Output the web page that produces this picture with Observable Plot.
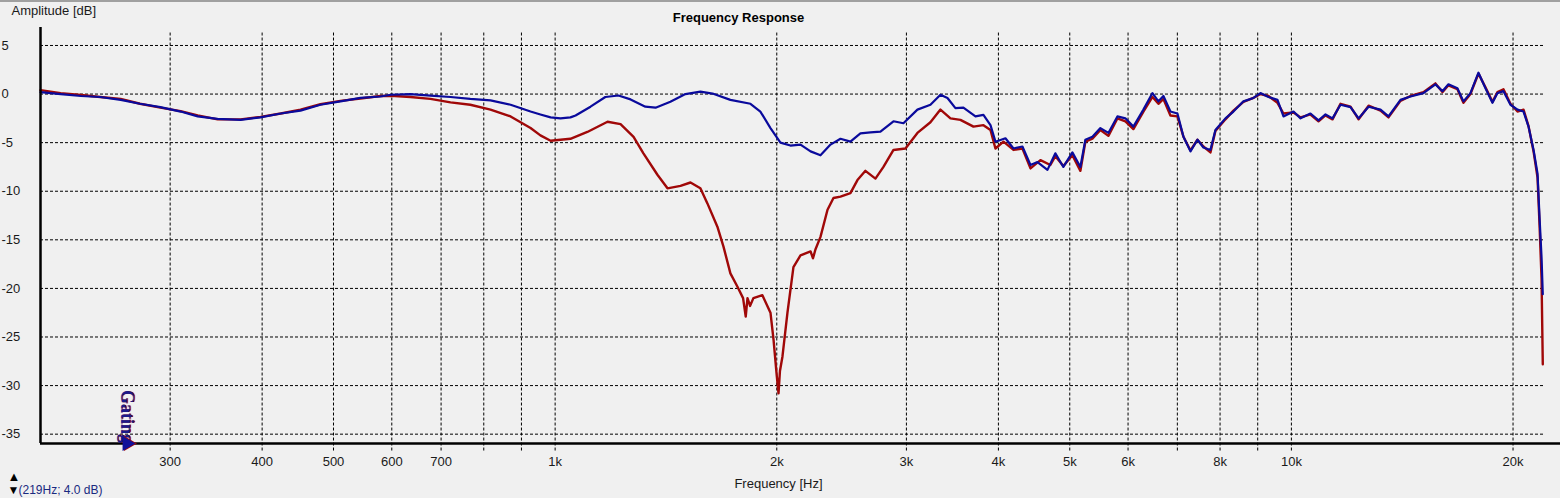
<!DOCTYPE html>
<html>
<head>
<meta charset="utf-8">
<script src="https://cdn.jsdelivr.net/npm/d3@7"></script>
<script src="https://cdn.jsdelivr.net/npm/@observablehq/plot@0.6"></script>
<style>
  html, body { margin: 0; padding: 0; background: #f0f0f0; }
  #wrap { position: relative; width: 1560px; height: 498px; overflow: hidden; }
  #topline { position: absolute; left: 0; top: 0; width: 1560px; height: 2px; background: #a0a0a0; }
  svg { display: block; }
</style>
</head>
<body>
<div id="wrap"><div id="chart"></div><div id="topline"></div></div>
<script>
// ---- data (frequency Hz, amplitude dB) ----
const blueCurve = [[200,0.2],[213,0.0],[227,-0.2],[241,-0.3],[257,-0.6],[273,-1.0],[291,-1.35],[310,-1.8],[327,-2.3],[348,-2.55],[374,-2.65],[398,-2.4],[424,-2.0],[451,-1.7],[480,-1.1],[511,-0.75],[544,-0.4],[579,-0.25],[598,-0.07],[636,0.0],[677,-0.17],[721,-0.3],[767,-0.5],[817,-0.65],[870,-1.1],[926,-1.8],[955,-2.1],[986,-2.4],[1017,-2.5],[1049,-2.4],[1066,-2.2],[1117,-1.3],[1170,-0.3],[1219,-0.15],[1266,-0.55],[1326,-1.3],[1369,-1.4],[1434,-0.8],[1503,0.0],[1575,0.25],[1636,0.05],[1730,-0.6],[1842,-1.0],[1900,-1.8],[1961,-3.5],[2023,-5.0],[2087,-5.3],[2154,-5.2],[2223,-5.9],[2293,-6.3],[2366,-5.2],[2441,-4.6],[2518,-4.9],[2598,-4.05],[2681,-3.95],[2766,-3.86],[2881,-2.8],[2972,-3.0],[3105,-1.6],[3234,-1.1],[3337,-0.07],[3411,-0.4],[3497,-1.45],[3585,-1.4],[3723,-2.3],[3817,-2.15],[3902,-3.2],[3963,-4.9],[4089,-4.55],[4193,-5.6],[4312,-5.4],[4422,-7.3],[4520,-7.0],[4663,-7.8],[4780,-6.1],[4901,-7.5],[5041,-6.0],[5169,-7.5],[5250,-4.7],[5367,-4.4],[5503,-3.5],[5642,-4.0],[5803,-2.3],[5950,-2.5],[6101,-3.35],[6295,-1.6],[6476,0.1],[6598,-0.75],[6702,-0.2],[6850,-1.8],[7002,-2.0],[7135,-4.4],[7293,-5.9],[7454,-4.7],[7595,-5.5],[7763,-5.75],[7885,-3.7],[8136,-2.5],[8342,-1.8],[8607,-0.75],[8880,-0.4],[9078,0.1],[9307,-0.3],[9574,-0.6],[9755,-2.3],[10065,-1.8],[10290,-2.5],[10614,-2.0],[10885,-2.7],[11126,-2.1],[11372,-2.5],[11660,-1.1],[12030,-1.35],[12339,-2.5],[12730,-1.3],[13213,-1.6],[13548,-2.3],[14065,-0.6],[14512,-0.25],[15112,0.1],[15690,1.0],[16037,0.3],[16341,1.0],[16806,0.6],[17126,-0.75],[17505,0.1],[17950,2.2],[18348,0.6],[18753,-0.9],[19050,0.1],[19410,0.3],[19840,-1.1],[20280,-1.6],[20666,-1.8],[20993,-3.35],[21325,-5.75],[21593,-8.2],[21729,-12.7],[21865,-16.8],[21950,-20.6]];

const redCurve = [[200,0.4],[213,0.1],[227,-0.1],[241,-0.3],[257,-0.5],[273,-1.0],[291,-1.4],[310,-1.75],[327,-2.2],[348,-2.6],[374,-2.6],[398,-2.35],[424,-2.0],[451,-1.6],[480,-1.05],[511,-0.7],[544,-0.45],[579,-0.2],[598,-0.17],[636,-0.3],[677,-0.5],[721,-0.85],[767,-1.1],[817,-1.6],[870,-2.3],[926,-3.5],[955,-4.25],[986,-4.8],[1017,-4.7],[1049,-4.6],[1106,-3.9],[1178,-2.85],[1227,-3.1],[1278,-4.4],[1318,-6.1],[1377,-8.3],[1421,-9.7],[1480,-9.45],[1527,-9.1],[1575,-9.7],[1610,-11.25],[1661,-13.65],[1693,-15.7],[1730,-18.45],[1768,-19.8],[1800,-21.0],[1815,-22.9],[1825,-21.0],[1840,-21.8],[1859,-21.0],[1912,-20.7],[1961,-22.5],[1980,-25.3],[2000,-29.0],[2011,-30.8],[2020,-28.5],[2036,-27.0],[2068,-22.5],[2107,-17.8],[2154,-16.6],[2223,-16.2],[2240,-16.9],[2257,-16.0],[2293,-14.7],[2344,-11.9],[2388,-10.7],[2441,-10.55],[2518,-10.2],[2574,-8.85],[2639,-7.9],[2723,-8.7],[2792,-7.5],[2881,-5.75],[2991,-5.6],[3105,-4.0],[3234,-2.9],[3337,-1.6],[3443,-2.5],[3552,-2.65],[3700,-3.35],[3817,-3.2],[3902,-3.7],[3963,-5.6],[4064,-4.9],[4193,-5.75],[4312,-5.6],[4422,-7.65],[4562,-6.8],[4706,-7.3],[4780,-6.4],[4901,-7.4],[5041,-6.3],[5169,-7.9],[5250,-4.9],[5367,-4.6],[5503,-3.7],[5642,-4.3],[5803,-2.5],[5950,-2.8],[6101,-3.6],[6295,-1.8],[6476,-0.3],[6598,-1.0],[6702,-0.5],[6850,-2.2],[7002,-2.3],[7135,-4.4],[7293,-5.8],[7454,-4.7],[7595,-5.4],[7763,-6.0],[7885,-3.8],[8136,-2.6],[8342,-1.7],[8607,-0.8],[8880,-0.4],[9078,0.0],[9307,-0.2],[9574,-0.9],[9755,-2.0],[10065,-1.9],[10290,-2.4],[10614,-2.1],[10885,-2.8],[11126,-2.2],[11372,-2.6],[11660,-1.0],[12030,-1.3],[12339,-2.6],[12730,-1.2],[13213,-1.7],[13548,-2.4],[14065,-0.7],[14512,-0.2],[15112,0.2],[15690,1.1],[16037,0.2],[16341,0.9],[16806,0.5],[17126,-0.9],[17505,0.0],[17950,2.1],[18348,0.7],[18753,-0.8],[19050,0.2],[19410,0.5],[19840,-1.0],[20280,-1.8],[20666,-1.6],[20993,-3.3],[21325,-5.9],[21593,-8.6],[21729,-13.5],[21865,-19.0],[21950,-27.8]];

const yTicks = [5, 0, -5, -10, -15, -20, -25, -30, -35];
const yTickLabels = ["5", "0", "-5", "-10", "-15", "-20", "-25", "-30", "-35"];
const xGrid = [300, 400, 500, 600, 700, 800, 900, 1000, 2000, 3000, 4000, 5000, 6000, 7000, 8000, 9000, 10000, 20000];
const xTicks = [300, 400, 500, 600, 700, 1000, 2000, 3000, 4000, 5000, 6000, 8000, 10000, 20000];
const xTickLabels = ["300", "400", "500", "600", "700", "1k", "2k", "3k", "4k", "5k", "6k", "8k", "10k", "20k"];
const gatingFreq = [262];

const title = "Frequency Response";
const yTitle = "Amplitude [dB]";
const xTitle = "Frequency [Hz]";
const cursorText = "(219Hz; 4.0 dB)";

const xDomain = [200, 23200];
const yDomain = [-35.96, 6.85];
const gridEnd = 22000;

const blueColor = "#0a0a9c";
const redColor = "#a00808";
const font = "'Liberation Sans', Arial, sans-serif";

const plot = Plot.plot({
  width: 1560,
  height: 498,
  marginLeft: 40,
  marginRight: 0,
  marginTop: 27,
  marginBottom: 55,
  style: { background: "#f0f0f0", fontFamily: font, fontSize: "13px", overflow: "visible" },
  x: { type: "log", domain: xDomain, axis: null },
  y: { domain: yDomain, axis: null },
  marks: [
    // horizontal dashed grid
    Plot.ruleY(yTicks, { x1: xDomain[0], x2: gridEnd, stroke: "#000", strokeWidth: 1, strokeDasharray: "3,2" }),
    // vertical dashed grid (extends below the axis as tick)
    Plot.ruleX(xGrid, { y1: 6.28, y2: -36.75, stroke: "#000", strokeWidth: 1, strokeDasharray: "3,2" }),
    // curves
    Plot.line(redCurve, { x: d => d[0], y: d => d[1], stroke: redColor, strokeWidth: 2.4 }),
    Plot.line(blueCurve, { x: d => d[0], y: d => d[1], stroke: blueColor, strokeWidth: 2.2 }),
    // axes lines
    Plot.ruleX([xDomain[0]], { y1: yDomain[0], y2: yDomain[1], stroke: "#000", strokeWidth: 2.5 }),
    Plot.ruleY([yDomain[0]], { stroke: "#000", strokeWidth: 2.5 }),
    // y tick labels
    Plot.text(yTicks, { y: d => d, text: (d, i) => yTickLabels[i], frameAnchor: "left", dx: -39, textAnchor: "start", lineAnchor: "middle", fill: "#1a1a1a", fontSize: 13 }),
    // x tick labels
    Plot.text(xTicks, { x: d => d, text: (d, i) => xTickLabels[i], frameAnchor: "bottom", dy: 18, lineAnchor: "middle", fill: "#1a1a1a", fontSize: 13 }),
    // titles
    Plot.text([title], { text: d => d, frameAnchor: "top-left", dx: 698, dy: -10, textAnchor: "middle", lineAnchor: "middle", fontWeight: "bold", fontSize: 13, fill: "#000" }),
    Plot.text([yTitle], { text: d => d, frameAnchor: "top-left", dx: -29, dy: -17, textAnchor: "start", lineAnchor: "middle", fontSize: 13, fill: "#1a1a1a" }),
    Plot.text([xTitle], { text: d => d, frameAnchor: "bottom-left", dx: 738, dy: 40, textAnchor: "middle", lineAnchor: "middle", fontSize: 13, fill: "#1a1a1a" }),
    Plot.text([cursorText], { text: d => d, frameAnchor: "bottom-left", dx: -22, dy: 47, textAnchor: "start", lineAnchor: "middle", fontSize: 12, fill: "#1a2a80" }),
    // scroll buttons
    Plot.text(["\u25B2"], { text: d => d, frameAnchor: "bottom-left", dx: -33, dy: 33, lineAnchor: "middle", fontSize: 13, fill: "#000" }),
    Plot.text(["\u25BC"], { text: d => d, frameAnchor: "bottom-left", dx: -33, dy: 47, lineAnchor: "middle", fontSize: 12, fill: "#000" }),
    // gating marker
    Plot.text(gatingFreq, { x: d => d, text: () => "Gating", frameAnchor: "bottom", dy: -27, dx: 1, rotate: 90, textAnchor: "middle", lineAnchor: "middle", fontFamily: "'Liberation Serif', serif", fontWeight: "bold", fontSize: 18, fill: redColor }),
    Plot.text(gatingFreq, { x: d => d, text: () => "Gating", frameAnchor: "bottom", dy: -27, rotate: 90, textAnchor: "middle", lineAnchor: "middle", fontFamily: "'Liberation Serif', serif", fontWeight: "bold", fontSize: 18, fill: "#1a1a8a" }),
    Plot.dot(gatingFreq, { x: d => d, frameAnchor: "bottom", dx: 1.5, symbol: "triangle", rotate: 90, r: 5.5, fill: redColor, stroke: "none" }),
    Plot.dot(gatingFreq, { x: d => d, frameAnchor: "bottom", symbol: "triangle", rotate: 90, r: 5.5, fill: "#10109a", stroke: "none" })
  ]
});
document.getElementById("chart").appendChild(plot);
</script>
</body>
</html>
